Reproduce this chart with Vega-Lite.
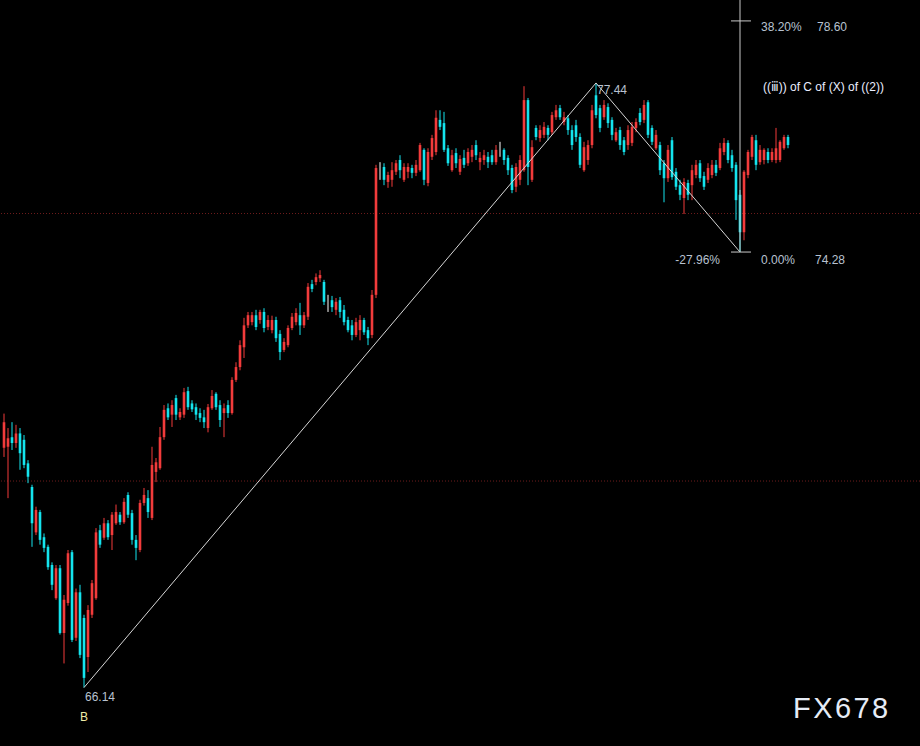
{
"$schema": "https://vega.github.io/schema/vega-lite/v6.json",
"width": 920, "height": 746,
"autosize": {"type": "none"},
"padding": 0,
"background": "#000000",
"config": {"view": {"stroke": null}, "text": {"font": "Liberation Sans, DejaVu Sans", "fontSize": 12}, "scale": {"continuousPadding": 0}},
"datasets": {
"candles": [
{"t":0,"o":70.62,"h":71.26,"l":70.45,"c":71.10},
{"t":1,"o":70.64,"h":70.99,"l":69.68,"c":70.80},
{"t":2,"o":70.82,"h":71.10,"l":70.58,"c":70.71},
{"t":3,"o":70.71,"h":71.05,"l":70.62,"c":70.89},
{"t":4,"o":70.89,"h":70.99,"l":70.21,"c":70.52},
{"t":5,"o":70.77,"h":70.86,"l":70.24,"c":70.30},
{"t":6,"o":70.33,"h":70.39,"l":69.96,"c":70.08},
{"t":7,"o":69.89,"h":69.93,"l":68.77,"c":69.21},
{"t":8,"o":69.04,"h":69.52,"l":68.99,"c":69.46},
{"t":9,"o":69.42,"h":69.46,"l":68.81,"c":68.90},
{"t":10,"o":68.95,"h":69.02,"l":68.67,"c":68.75},
{"t":11,"o":68.77,"h":68.81,"l":68.34,"c":68.39},
{"t":12,"o":68.43,"h":68.48,"l":67.96,"c":68.06},
{"t":13,"o":67.81,"h":68.43,"l":67.78,"c":68.37},
{"t":14,"o":68.37,"h":68.43,"l":67.13,"c":67.16},
{"t":15,"o":67.16,"h":67.87,"l":66.59,"c":67.78},
{"t":16,"o":67.72,"h":68.71,"l":67.67,"c":68.65},
{"t":17,"o":68.67,"h":68.71,"l":66.99,"c":67.03},
{"t":18,"o":67.07,"h":67.99,"l":67.01,"c":67.92},
{"t":19,"o":67.92,"h":68.06,"l":66.69,"c":66.75},
{"t":20,"o":67.44,"h":67.50,"l":66.14,"c":66.32},
{"t":21,"o":66.71,"h":67.68,"l":66.43,"c":67.59},
{"t":22,"o":67.50,"h":68.15,"l":67.44,"c":68.09},
{"t":23,"o":67.81,"h":69.12,"l":67.78,"c":69.04},
{"t":24,"o":69.08,"h":69.18,"l":68.75,"c":68.81},
{"t":25,"o":68.94,"h":69.31,"l":68.90,"c":69.21},
{"t":26,"o":69.21,"h":69.27,"l":68.90,"c":68.95},
{"t":27,"o":68.99,"h":69.42,"l":68.71,"c":69.37},
{"t":28,"o":69.21,"h":69.56,"l":69.18,"c":69.42},
{"t":29,"o":69.37,"h":69.42,"l":69.18,"c":69.23},
{"t":30,"o":69.23,"h":69.68,"l":69.20,"c":69.61},
{"t":31,"o":69.74,"h":69.79,"l":69.31,"c":69.37},
{"t":32,"o":69.40,"h":69.46,"l":68.81,"c":68.90},
{"t":33,"o":68.90,"h":68.99,"l":68.52,"c":68.75},
{"t":34,"o":68.71,"h":69.65,"l":68.67,"c":69.59},
{"t":35,"o":69.59,"h":69.87,"l":69.54,"c":69.74},
{"t":36,"o":69.68,"h":69.83,"l":69.31,"c":69.42},
{"t":37,"o":69.31,"h":70.64,"l":69.27,"c":70.30},
{"t":38,"o":70.17,"h":70.43,"l":69.98,"c":70.35},
{"t":39,"o":70.24,"h":71.01,"l":70.21,"c":70.82},
{"t":40,"o":70.82,"h":71.42,"l":70.77,"c":71.33},
{"t":41,"o":71.36,"h":71.45,"l":71.14,"c":71.19},
{"t":42,"o":71.24,"h":71.51,"l":71.01,"c":71.42},
{"t":43,"o":71.55,"h":71.61,"l":71.14,"c":71.24},
{"t":44,"o":71.19,"h":71.36,"l":71.14,"c":71.29},
{"t":45,"o":71.24,"h":71.74,"l":71.18,"c":71.66},
{"t":46,"o":71.68,"h":71.76,"l":71.33,"c":71.38},
{"t":47,"o":71.45,"h":71.51,"l":71.29,"c":71.34},
{"t":48,"o":71.38,"h":71.45,"l":71.14,"c":71.24},
{"t":49,"o":71.27,"h":71.36,"l":71.10,"c":71.18},
{"t":50,"o":71.19,"h":71.33,"l":70.99,"c":71.10},
{"t":51,"o":70.99,"h":71.44,"l":70.91,"c":71.38},
{"t":52,"o":71.36,"h":71.70,"l":71.33,"c":71.59},
{"t":53,"o":71.63,"h":71.66,"l":71.33,"c":71.38},
{"t":54,"o":71.42,"h":71.51,"l":71.01,"c":71.14},
{"t":55,"o":71.27,"h":71.45,"l":70.82,"c":71.36},
{"t":56,"o":71.42,"h":71.51,"l":71.18,"c":71.27},
{"t":57,"o":71.27,"h":71.94,"l":71.24,"c":71.89},
{"t":58,"o":71.89,"h":72.22,"l":71.85,"c":72.13},
{"t":59,"o":72.13,"h":72.63,"l":72.07,"c":72.54},
{"t":60,"o":72.50,"h":73.05,"l":72.30,"c":72.91},
{"t":61,"o":72.91,"h":73.16,"l":72.86,"c":73.10},
{"t":62,"o":72.97,"h":73.16,"l":72.91,"c":73.10},
{"t":63,"o":73.10,"h":73.20,"l":72.82,"c":72.88},
{"t":64,"o":73.01,"h":73.20,"l":72.94,"c":73.16},
{"t":65,"o":73.16,"h":73.23,"l":72.78,"c":72.86},
{"t":66,"o":72.88,"h":73.10,"l":72.82,"c":73.01},
{"t":67,"o":72.82,"h":73.09,"l":72.76,"c":73.01},
{"t":68,"o":73.01,"h":73.07,"l":72.60,"c":72.67},
{"t":69,"o":72.75,"h":72.82,"l":72.26,"c":72.41},
{"t":70,"o":72.45,"h":72.67,"l":72.41,"c":72.60},
{"t":71,"o":72.54,"h":72.91,"l":72.50,"c":72.86},
{"t":72,"o":72.86,"h":73.14,"l":72.82,"c":73.07},
{"t":73,"o":72.97,"h":73.23,"l":72.91,"c":73.14},
{"t":74,"o":73.10,"h":73.33,"l":72.73,"c":72.91},
{"t":75,"o":72.91,"h":73.16,"l":72.86,"c":73.10},
{"t":76,"o":73.07,"h":73.70,"l":73.01,"c":73.63},
{"t":77,"o":73.68,"h":73.76,"l":73.53,"c":73.59},
{"t":78,"o":73.72,"h":73.88,"l":73.66,"c":73.81},
{"t":79,"o":73.79,"h":73.94,"l":73.72,"c":73.85},
{"t":80,"o":73.72,"h":73.76,"l":73.29,"c":73.35},
{"t":81,"o":73.37,"h":73.48,"l":73.16,"c":73.37},
{"t":82,"o":73.38,"h":73.46,"l":73.16,"c":73.25},
{"t":83,"o":73.20,"h":73.42,"l":73.10,"c":73.35},
{"t":84,"o":73.38,"h":73.44,"l":73.05,"c":73.16},
{"t":85,"o":73.20,"h":73.29,"l":72.91,"c":72.97},
{"t":86,"o":73.01,"h":73.07,"l":72.78,"c":72.82},
{"t":87,"o":72.91,"h":73.01,"l":72.63,"c":72.73},
{"t":88,"o":72.73,"h":73.05,"l":72.69,"c":72.97},
{"t":89,"o":72.82,"h":73.10,"l":72.63,"c":73.01},
{"t":90,"o":73.01,"h":73.05,"l":72.73,"c":72.78},
{"t":91,"o":72.82,"h":72.88,"l":72.54,"c":72.67},
{"t":92,"o":72.73,"h":73.57,"l":72.67,"c":73.48},
{"t":93,"o":73.48,"h":75.91,"l":73.42,"c":75.85},
{"t":94,"o":75.81,"h":75.96,"l":75.63,"c":75.81},
{"t":95,"o":75.87,"h":75.94,"l":75.53,"c":75.63},
{"t":96,"o":75.59,"h":75.78,"l":75.48,"c":75.72},
{"t":97,"o":75.63,"h":75.96,"l":75.50,"c":75.81},
{"t":98,"o":75.78,"h":76.00,"l":75.72,"c":75.94},
{"t":99,"o":76.00,"h":76.09,"l":75.66,"c":75.81},
{"t":100,"o":75.63,"h":75.94,"l":75.59,"c":75.87},
{"t":101,"o":75.78,"h":75.94,"l":75.66,"c":75.87},
{"t":102,"o":75.85,"h":75.91,"l":75.66,"c":75.76},
{"t":103,"o":75.76,"h":76.00,"l":75.70,"c":75.91},
{"t":104,"o":75.81,"h":76.32,"l":75.78,"c":76.28},
{"t":105,"o":76.19,"h":76.22,"l":75.53,"c":75.63},
{"t":106,"o":75.57,"h":76.22,"l":75.51,"c":76.15},
{"t":107,"o":76.06,"h":76.47,"l":76.00,"c":76.41},
{"t":108,"o":76.15,"h":76.93,"l":76.09,"c":76.79},
{"t":109,"o":76.75,"h":76.93,"l":76.56,"c":76.62},
{"t":110,"o":76.69,"h":76.90,"l":76.15,"c":76.19},
{"t":111,"o":76.22,"h":76.28,"l":75.89,"c":75.94},
{"t":112,"o":75.81,"h":76.19,"l":75.78,"c":76.09},
{"t":113,"o":76.13,"h":76.22,"l":75.85,"c":75.94},
{"t":114,"o":75.78,"h":76.09,"l":75.72,"c":76.02},
{"t":115,"o":76.04,"h":76.19,"l":75.85,"c":75.91},
{"t":116,"o":75.94,"h":76.22,"l":75.89,"c":76.15},
{"t":117,"o":76.06,"h":76.28,"l":75.96,"c":76.19},
{"t":118,"o":76.28,"h":76.37,"l":76.00,"c":76.09},
{"t":119,"o":75.96,"h":76.15,"l":75.81,"c":76.04},
{"t":120,"o":76.00,"h":76.19,"l":75.91,"c":76.09},
{"t":121,"o":76.06,"h":76.15,"l":75.85,"c":75.96},
{"t":122,"o":76.09,"h":76.19,"l":75.91,"c":75.96},
{"t":123,"o":75.96,"h":76.28,"l":75.91,"c":76.19},
{"t":124,"o":76.19,"h":76.34,"l":76.06,"c":76.19},
{"t":125,"o":76.19,"h":76.22,"l":75.91,"c":76.00},
{"t":126,"o":76.04,"h":76.09,"l":75.72,"c":75.81},
{"t":127,"o":75.85,"h":75.91,"l":75.38,"c":75.44},
{"t":128,"o":75.50,"h":75.94,"l":75.40,"c":75.87},
{"t":129,"o":75.63,"h":76.09,"l":75.53,"c":76.00},
{"t":130,"o":75.81,"h":77.38,"l":75.78,"c":77.12},
{"t":131,"o":77.12,"h":77.16,"l":75.53,"c":75.87},
{"t":132,"o":75.63,"h":76.37,"l":75.59,"c":76.24},
{"t":133,"o":76.60,"h":76.65,"l":76.37,"c":76.43},
{"t":134,"o":76.41,"h":76.65,"l":76.34,"c":76.56},
{"t":135,"o":76.47,"h":76.71,"l":76.41,"c":76.62},
{"t":136,"o":76.60,"h":76.65,"l":76.37,"c":76.47},
{"t":137,"o":76.52,"h":76.90,"l":76.47,"c":76.84},
{"t":138,"o":76.80,"h":77.03,"l":76.75,"c":76.93},
{"t":139,"o":76.97,"h":77.03,"l":76.75,"c":76.80},
{"t":140,"o":76.71,"h":76.90,"l":76.65,"c":76.80},
{"t":141,"o":76.78,"h":76.84,"l":76.47,"c":76.56},
{"t":142,"o":76.56,"h":76.65,"l":76.19,"c":76.28},
{"t":143,"o":76.65,"h":76.75,"l":76.34,"c":76.43},
{"t":144,"o":76.43,"h":76.50,"l":75.85,"c":75.91},
{"t":145,"o":75.81,"h":76.34,"l":75.78,"c":76.24},
{"t":146,"o":76.00,"h":76.37,"l":75.91,"c":76.28},
{"t":147,"o":76.28,"h":77.03,"l":76.22,"c":76.93},
{"t":148,"o":77.21,"h":77.44,"l":76.78,"c":76.84},
{"t":149,"o":76.97,"h":77.03,"l":76.52,"c":76.60},
{"t":150,"o":76.80,"h":77.12,"l":76.75,"c":77.03},
{"t":151,"o":76.99,"h":77.06,"l":76.60,"c":76.69},
{"t":152,"o":76.75,"h":76.80,"l":76.37,"c":76.47},
{"t":153,"o":76.37,"h":76.60,"l":76.34,"c":76.52},
{"t":154,"o":76.56,"h":76.62,"l":76.19,"c":76.28},
{"t":155,"o":76.37,"h":76.43,"l":76.09,"c":76.15},
{"t":156,"o":76.28,"h":76.65,"l":76.19,"c":76.56},
{"t":157,"o":76.32,"h":76.71,"l":76.26,"c":76.62},
{"t":158,"o":76.60,"h":76.78,"l":76.52,"c":76.71},
{"t":159,"o":76.88,"h":76.97,"l":76.65,"c":76.71},
{"t":160,"o":76.75,"h":77.12,"l":76.69,"c":77.03},
{"t":161,"o":77.08,"h":77.12,"l":76.41,"c":76.47},
{"t":162,"o":76.60,"h":76.65,"l":76.28,"c":76.34},
{"t":163,"o":76.22,"h":76.56,"l":76.19,"c":76.47},
{"t":164,"o":76.28,"h":76.34,"l":75.72,"c":75.81},
{"t":165,"o":75.94,"h":76.00,"l":75.21,"c":75.66},
{"t":166,"o":75.66,"h":76.28,"l":75.59,"c":76.19},
{"t":167,"o":76.37,"h":76.43,"l":75.63,"c":75.68},
{"t":168,"o":75.78,"h":75.85,"l":75.44,"c":75.50},
{"t":169,"o":75.53,"h":75.63,"l":75.25,"c":75.35},
{"t":170,"o":75.29,"h":75.66,"l":74.99,"c":75.59},
{"t":171,"o":75.57,"h":75.63,"l":75.25,"c":75.35},
{"t":172,"o":75.53,"h":75.91,"l":75.25,"c":75.81},
{"t":173,"o":75.72,"h":76.00,"l":75.66,"c":75.91},
{"t":174,"o":75.94,"h":76.00,"l":75.59,"c":75.66},
{"t":175,"o":75.70,"h":75.78,"l":75.44,"c":75.50},
{"t":176,"o":75.63,"h":75.94,"l":75.57,"c":75.85},
{"t":177,"o":75.72,"h":76.00,"l":75.66,"c":75.91},
{"t":178,"o":75.91,"h":76.00,"l":75.70,"c":75.76},
{"t":179,"o":75.85,"h":76.32,"l":75.81,"c":76.22},
{"t":180,"o":76.15,"h":76.41,"l":76.09,"c":76.32},
{"t":181,"o":76.32,"h":76.37,"l":75.94,"c":76.00},
{"t":182,"o":76.09,"h":76.19,"l":75.78,"c":75.85},
{"t":183,"o":75.91,"h":75.96,"l":74.88,"c":75.25},
{"t":184,"o":75.35,"h":75.44,"l":74.28,"c":74.65},
{"t":185,"o":74.65,"h":75.81,"l":74.50,"c":75.78},
{"t":186,"o":75.72,"h":76.19,"l":75.66,"c":76.15},
{"t":187,"o":76.06,"h":76.47,"l":76.00,"c":76.43},
{"t":188,"o":76.37,"h":76.47,"l":75.81,"c":75.91},
{"t":189,"o":75.96,"h":76.28,"l":75.91,"c":76.19},
{"t":190,"o":76.00,"h":76.22,"l":75.92,"c":76.19},
{"t":191,"o":76.15,"h":76.22,"l":75.94,"c":76.00},
{"t":192,"o":76.00,"h":76.22,"l":75.96,"c":76.15},
{"t":193,"o":76.00,"h":76.60,"l":75.94,"c":76.22},
{"t":194,"o":76.00,"h":76.37,"l":75.96,"c":76.34},
{"t":195,"o":76.22,"h":76.47,"l":76.19,"c":76.43},
{"t":196,"o":76.43,"h":76.47,"l":76.22,"c":76.28}
],
"wave": [{"t":20,"p":66.14},{"t":148,"p":77.44},{"t":184,"p":74.28}]
},
"layer": [
{"data": {"values": [{"p":70},{"p":75}]},
 "mark": {"type": "rule", "color": "#6e1c1c", "strokeDash": [1,2], "strokeWidth": 1},
 "encoding": {"y": {"field": "p", "type": "quantitative", "scale": {"domain": [65.047, 78.991], "nice": false, "zero": false, "padding": 0}, "axis": null}}},
{"data": {"name": "candles"},
 "mark": {"type": "rule", "strokeWidth": 1},
 "encoding": {
  "x": {"field": "t", "type": "quantitative", "scale": {"domain": [-1, 229], "nice": false, "zero": false, "padding": 0}, "axis": null},
  "y": {"field": "l", "type": "quantitative", "scale": {"domain": [65.047, 78.991], "nice": false, "zero": false, "padding": 0}, "axis": null},
  "y2": {"field": "h"},
  "color": {"condition": [{"test": "datum.c > datum.o", "value": "#f23b3b"}, {"test": "datum.c < datum.o", "value": "#14e4ee"}], "value": "#ffffff"}}},
{"data": {"name": "candles"},
 "mark": {"type": "bar", "width": 2.6},
 "encoding": {
  "x": {"field": "t", "type": "quantitative", "scale": {"domain": [-1, 229], "nice": false, "zero": false, "padding": 0}, "axis": null},
  "y": {"field": "o", "type": "quantitative", "scale": {"domain": [65.047, 78.991], "nice": false, "zero": false, "padding": 0}, "axis": null},
  "y2": {"field": "c"},
  "color": {"condition": [{"test": "datum.c > datum.o", "value": "#f23b3b"}, {"test": "datum.c < datum.o", "value": "#14e4ee"}], "value": "#ffffff"}}},
{"data": {"name": "wave"},
 "mark": {"type": "line", "color": "#d6d6d6", "strokeWidth": 1},
 "encoding": {
  "x": {"field": "t", "type": "quantitative", "scale": {"domain": [-1, 229], "nice": false, "zero": false, "padding": 0}, "axis": null},
  "y": {"field": "p", "type": "quantitative", "scale": {"domain": [65.047, 78.991], "nice": false, "zero": false, "padding": 0}, "axis": null}}},
{"data": {"values": [{"t":184,"p":74.28,"p2":78.991}]},
 "mark": {"type": "rule", "color": "#c8c8c8", "strokeWidth": 1},
 "encoding": {
  "x": {"field": "t", "type": "quantitative", "scale": {"domain": [-1, 229], "nice": false, "zero": false, "padding": 0}, "axis": null},
  "y": {"field": "p", "type": "quantitative", "scale": {"domain": [65.047, 78.991], "nice": false, "zero": false, "padding": 0}, "axis": null},
  "y2": {"field": "p2"}}},
{"data": {"values": [{"t":181.75,"t2":186.75,"p":78.60},{"t":181.75,"t2":186.75,"p":74.28}]},
 "mark": {"type": "rule", "color": "#c8c8c8", "strokeWidth": 1},
 "encoding": {
  "x": {"field": "t", "type": "quantitative", "scale": {"domain": [-1, 229], "nice": false, "zero": false, "padding": 0}, "axis": null},
  "x2": {"field": "t2"},
  "y": {"field": "p", "type": "quantitative", "scale": {"domain": [65.047, 78.991], "nice": false, "zero": false, "padding": 0}, "axis": null}}},
{"data": {"values": [{"t":20,"p":66.14,"label":"66.14"}]},
 "mark": {"type": "text", "align": "left", "baseline": "middle", "dx": 1, "dy": 9, "color": "#b8c2d0"},
 "encoding": {"x": {"field": "t", "type": "quantitative"}, "y": {"field": "p", "type": "quantitative"}, "text": {"field": "label"}}},
{"data": {"values": [{"t":20,"p":66.14,"label":"B"}]},
 "mark": {"type": "text", "align": "left", "baseline": "middle", "dx": -4, "dy": 29, "color": "#f0eca8"},
 "encoding": {"x": {"field": "t", "type": "quantitative"}, "y": {"field": "p", "type": "quantitative"}, "text": {"field": "label"}}},
{"data": {"values": [{"t":148,"p":77.44,"label":"77.44"}]},
 "mark": {"type": "text", "align": "left", "baseline": "middle", "dx": 1, "dy": 7, "color": "#b8c2d0"},
 "encoding": {"x": {"field": "t", "type": "quantitative"}, "y": {"field": "p", "type": "quantitative"}, "text": {"field": "label"}}},
{"data": {"values": [{"t":184,"p":74.28,"label":"-27.96%"}]},
 "mark": {"type": "text", "align": "right", "baseline": "middle", "dx": -20, "dy": 8, "color": "#b8c2d0"},
 "encoding": {"x": {"field": "t", "type": "quantitative"}, "y": {"field": "p", "type": "quantitative"}, "text": {"field": "label"}}},
{"data": {"values": [{"t":184,"p":74.28,"label":"0.00%"}]},
 "mark": {"type": "text", "align": "left", "baseline": "middle", "dx": 21, "dy": 8, "color": "#b8c2d0"},
 "encoding": {"x": {"field": "t", "type": "quantitative"}, "y": {"field": "p", "type": "quantitative"}, "text": {"field": "label"}}},
{"data": {"values": [{"t":184,"p":74.28,"label":"74.28"}]},
 "mark": {"type": "text", "align": "left", "baseline": "middle", "dx": 75, "dy": 8, "color": "#b8c2d0"},
 "encoding": {"x": {"field": "t", "type": "quantitative"}, "y": {"field": "p", "type": "quantitative"}, "text": {"field": "label"}}},
{"data": {"values": [{"t":184,"p":78.60,"label":"38.20%"}]},
 "mark": {"type": "text", "align": "left", "baseline": "middle", "dx": 21, "dy": 6, "color": "#b8c2d0"},
 "encoding": {"x": {"field": "t", "type": "quantitative"}, "y": {"field": "p", "type": "quantitative"}, "text": {"field": "label"}}},
{"data": {"values": [{"t":184,"p":78.60,"label":"78.60"}]},
 "mark": {"type": "text", "align": "left", "baseline": "middle", "dx": 77, "dy": 6, "color": "#b8c2d0"},
 "encoding": {"x": {"field": "t", "type": "quantitative"}, "y": {"field": "p", "type": "quantitative"}, "text": {"field": "label"}}},
{"data": {"values": [{"t":189.75,"p":77.37,"label":"((ⅲ)) of C of (X) of ((2))"}]},
 "mark": {"type": "text", "align": "left", "baseline": "middle", "color": "#eaeeff"},
 "encoding": {"x": {"field": "t", "type": "quantitative"}, "y": {"field": "p", "type": "quantitative"}, "text": {"field": "label"}}},
{"data": {"values": [{"t":197.25,"p":65.73,"label":"F\u200AX\u200A6\u200A7\u200A8"}]},
 "mark": {"type": "text", "align": "left", "baseline": "middle", "fontSize": 29, "color": "#e6ecf6"},
 "encoding": {"x": {"field": "t", "type": "quantitative"}, "y": {"field": "p", "type": "quantitative"}, "text": {"field": "label"}}}
]
}
